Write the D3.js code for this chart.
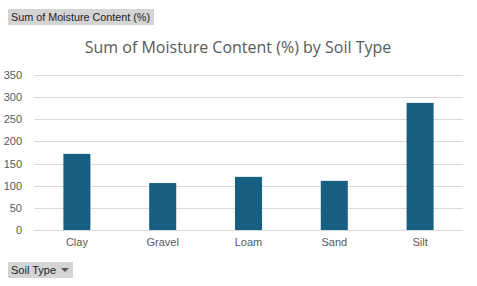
<!DOCTYPE html>
<html lang="en">
<head>
<meta charset="UTF-8">
<title>Sum of Moisture Content (%) by Soil Type</title>
<style>
    body, html { margin: 0; background: #fff; }
    svg { display: block; font-family: "Liberation Sans", Arial, sans-serif; }
    .grid line { stroke: #d9d9d9; stroke-width: 1; }
    .tick text { fill: #595959; font-size: 11px; }
    .btn rect { fill: #d4d4d4; }
    .btn text { fill: #222; font-size: 11.5px; font-family: "Liberation Sans", Arial, sans-serif; }
</style>
</head>
<body>
<svg id="chart" width="477" height="286"></svg>
<script src="https://d3js.org/d3.v7.min.js"></script>
<script>
const soilTypes = ["Clay", "Gravel", "Loam", "Sand", "Silt"];
const moisture = [172, 106, 120, 111, 287];
const yTicks = [0, 50, 100, 150, 200, 250, 300, 350];

const svg = d3.select("#chart");
const plot = { left: 34, right: 463, top: 75, bottom: 230 };

const x = d3.scaleBand()
    .domain(soilTypes)
    .range([plot.left, plot.right])
    .paddingInner(0.685)
    .paddingOuter(0.3425);

const y = d3.scaleLinear()
    .domain([0, 350])
    .range([plot.bottom, plot.top]);

// gridlines
svg.append("g")
    .attr("class", "grid")
    .selectAll("line")
    .data(yTicks)
    .join("line")
    .attr("x1", plot.left)
    .attr("x2", plot.right)
    .attr("y1", d => Math.round(y(d)) + 0.5)
    .attr("y2", d => Math.round(y(d)) + 0.5);

// y axis labels
const yAxis = svg.append("g")
    .attr("transform", `translate(${plot.left - 12},0)`)
    .call(d3.axisLeft(y).tickValues(yTicks).tickSize(0).tickPadding(0));
yAxis.select(".domain").remove();

// x axis labels
const xAxis = svg.append("g")
    .attr("transform", `translate(0,${plot.bottom + 8})`)
    .call(d3.axisBottom(x).tickSize(0).tickPadding(0));
xAxis.select(".domain").remove();
xAxis.selectAll("text").attr("dy", "0.71em");

// bars
svg.append("g")
    .selectAll("rect")
    .data(soilTypes)
    .join("rect")
    .attr("x", d => x(d))
    .attr("width", x.bandwidth())
    .attr("y", (d, i) => y(moisture[i]))
    .attr("height", (d, i) => y(0) - y(moisture[i]))
    .attr("fill", "#175f82");

// title
svg.append("text")
    .attr("x", 238)
    .attr("y", 53)
    .attr("text-anchor", "middle")
    .attr("fill", "#595959")
    .style("font-size", "16px")
    .style("font-family", "'Open Sans', sans-serif")
    .text("Sum of Moisture Content (%) by Soil Type");

// pivot field buttons
const topBtn = svg.append("g").attr("class", "btn");
topBtn.append("rect").attr("x", 8).attr("y", 9).attr("width", 146).attr("height", 16);
topBtn.append("text").attr("x", 11).attr("y", 21)
    .attr("textLength", 139).attr("lengthAdjust", "spacingAndGlyphs")
    .text("Sum of Moisture Content (%)");

const botBtn = svg.append("g").attr("class", "btn");
botBtn.append("rect").attr("x", 8).attr("y", 262).attr("width", 65).attr("height", 16);
botBtn.append("text").attr("x", 11).attr("y", 274)
    .attr("textLength", 45).attr("lengthAdjust", "spacingAndGlyphs")
    .text("Soil Type");
botBtn.append("path").attr("d", "M61,268 L69,268 L65,272 Z").attr("fill", "#555");
</script>
</body>
</html>
